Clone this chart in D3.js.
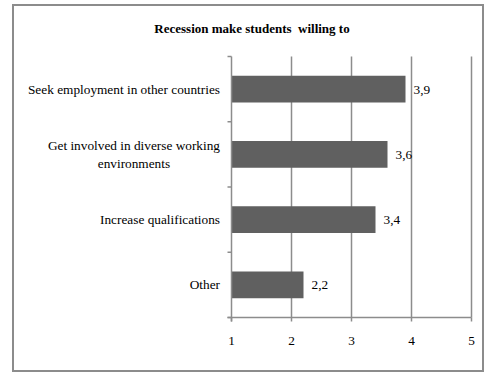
<!DOCTYPE html>
<html><head><meta charset="utf-8">
<script src="https://cdn.jsdelivr.net/npm/d3@7/dist/d3.min.js"></script>
<style>body{margin:0;background:#fff}svg{display:block}text{white-space:pre}</style>
</head><body>
<script>
const categories = ["Seek employment in other countries","Get involved in diverse working environments","Increase qualifications","Other"];
const labelLines = [["Seek employment in other countries"],["Get involved in diverse working","environments"],["Increase qualifications"],["Other"]];
const values = [3.9, 3.6, 3.4, 2.2];
const valueLabels = ["3,9","3,6","3,4","2,2"];
const xTicks = [1,2,3,4,5];
const title = "Recession make students  willing to";

(function(){
const W=485,H=373;
const font = "'Liberation Serif','Times New Roman',serif";
const fs = 13.3;
const gridColor = "#8c8c8c";
const svg = d3.select("body").append("svg").attr("width",W).attr("height",H);

svg.append("rect").attr("x",13).attr("y",5).attr("width",470).attr("height",366)
  .attr("fill","#fff").attr("stroke",gridColor).attr("stroke-width",2);

svg.append("text").attr("x",252).attr("y",33).attr("text-anchor","middle")
  .attr("font-family",font).attr("font-weight","bold").attr("font-size",13).attr("fill","#000").text(title);

const x = d3.scaleLinear().domain([1,5]).range([231.5,471.5]);
const y = d3.scaleBand().domain(categories).range([56.5,317.5]).paddingInner(0.59).paddingOuter(0.295);
const step = y.step();
const plotTop = 56.5, plotBottom = 317.5;

svg.append("g").selectAll("line").data(xTicks.slice(1)).join("line")
  .attr("x1",d=>x(d)).attr("x2",d=>x(d)).attr("y1",plotTop).attr("y2",plotBottom)
  .attr("stroke",gridColor).attr("stroke-width",1.5);

svg.append("g").selectAll("rect").data(values).join("rect")
  .attr("x",x(1)).attr("y",(d,i)=>y(categories[i]))
  .attr("width",d=>x(d)-x(1)).attr("height",y.bandwidth()).attr("fill","#606060");

svg.append("g").selectAll("text").data(values).join("text")
  .attr("x",d=>x(d)+8).attr("y",(d,i)=>y(categories[i])+y.bandwidth()/2+4.5)
  .attr("font-family",font).attr("font-size",fs).attr("fill","#000").text((d,i)=>valueLabels[i]);

const yAxis = svg.append("g");
yAxis.append("line").attr("x1",x(1)).attr("x2",x(1)).attr("y1",plotTop).attr("y2",plotBottom+4)
  .attr("stroke",gridColor).attr("stroke-width",1.5);
const bounds = d3.range(categories.length+1).map(i=>plotTop+i*step);
yAxis.selectAll("line.t").data(bounds).join("line").attr("class","t")
  .attr("x1",x(1)-4).attr("x2",x(1)).attr("y1",d=>d).attr("y2",d=>d)
  .attr("stroke",gridColor).attr("stroke-width",1.5);

const xAxis = svg.append("g");
xAxis.append("line").attr("x1",x(1)-4).attr("x2",x(5)).attr("y1",plotBottom).attr("y2",plotBottom)
  .attr("stroke",gridColor).attr("stroke-width",1.5);
xAxis.selectAll("line.t").data(xTicks).join("line").attr("class","t")
  .attr("x1",d=>x(d)).attr("x2",d=>x(d)).attr("y1",plotBottom).attr("y2",plotBottom+4)
  .attr("stroke",gridColor).attr("stroke-width",1.5);
xAxis.selectAll("text").data(xTicks).join("text")
  .attr("x",d=>x(d)).attr("y",345).attr("text-anchor","middle")
  .attr("font-family",font).attr("font-size",fs).attr("fill","#000").text(d=>d);

const lg = svg.append("g").attr("font-family",font).attr("font-size",fs).attr("fill","#000");
labelLines.forEach((lines,i)=>{
  const cy = y(categories[i]) + y.bandwidth()/2;
  const lh = 18.5;
  const t = lg.append("text").attr("text-anchor","middle");
  const spans = lines.map(s=>t.append("tspan").text(s));
  const maxW = d3.max(spans, s=>s.node().getComputedTextLength());
  const cx = 220 - maxW/2;
  spans.forEach((s,j)=>s.attr("x",cx).attr("y",cy + 4.5 + (j-(lines.length-1)/2)*lh));
});
})();
</script>
</body></html>
